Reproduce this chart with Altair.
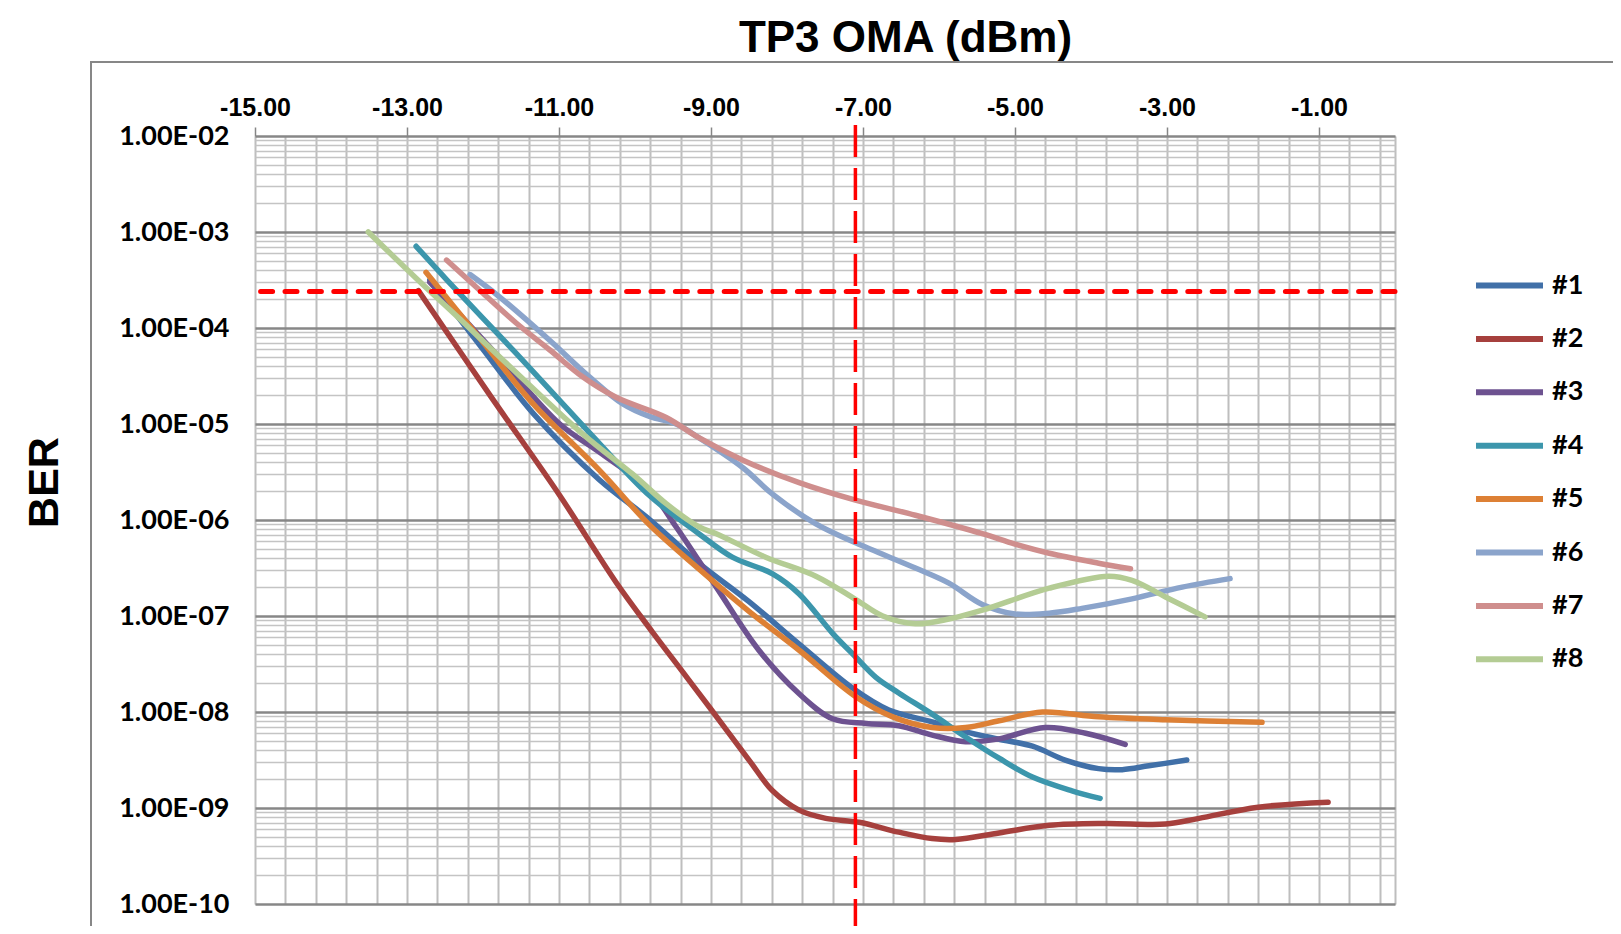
import altair as alt
import pandas as pd

# ---------------- data ----------------
SERIES = ["#1", "#2", "#3", "#4", "#5", "#6", "#7", "#8"]
COLORS = ["#4170A8", "#A6403D", "#6D5290", "#3C96AC", "#DD8035", "#8BA4CB", "#CF8E8D", "#B4CC94"]

OMA_1 = [-12.70, -12.00, -11.34, -10.47, -9.80, -9.16, -8.50, -7.84, -7.14, -6.66, -6.09, -5.65, -5.21, -4.77, -4.34, -3.90, -3.59, -3.24, -2.74]
BER_1 = [3.16e-4, 6.0e-5, 1.29e-5, 2.63e-6, 1.0e-6, 3.55e-7, 1.41e-7, 5.1e-8, 1.78e-8, 1.05e-8, 7.9e-9, 6.2e-9, 5.2e-9, 4.4e-9, 3.16e-9, 2.57e-9, 2.51e-9, 2.75e-9, 3.16e-9]

OMA_2 = [-12.85, -11.90, -10.99, -10.25, -9.77, -9.37, -9.02, -8.50, -8.19, -7.84, -7.49, -7.05, -6.53, -6.09, -5.78, -5.21, -4.55, -3.81, -3.02, -2.58, -1.80, -0.88]
BER_2 = [2.45e-4, 1.95e-5, 1.8e-6, 2.25e-7, 6.8e-8, 2.6e-8, 1.12e-8, 3.16e-9, 1.51e-9, 9.5e-10, 7.8e-10, 7.1e-10, 5.6e-10, 4.8e-10, 4.7e-10, 5.5e-10, 6.6e-10, 6.9e-10, 6.8e-10, 7.8e-10, 1.02e-9, 1.15e-9]

OMA_3 = [-12.70, -11.85, -10.99, -10.47, -9.81, -9.46, -8.93, -8.37, -7.84, -7.40, -6.96, -6.53, -6.09, -5.65, -5.21, -4.60, -4.07, -3.55]
BER_3 = [3.0e-4, 5.6e-5, 1.0e-5, 5.1e-6, 2.04e-6, 8.5e-7, 2.0e-7, 4.4e-8, 1.55e-8, 8.5e-9, 7.6e-9, 7.2e-9, 5.75e-9, 4.9e-9, 5.25e-9, 6.9e-9, 6.0e-9, 4.6e-9]

OMA_4 = [-12.88, -12.48, -11.56, -11.08, -10.47, -9.81, -9.16, -8.72, -8.19, -7.84, -7.40, -7.09, -6.83, -6.53, -6.09, -5.65, -5.21, -4.77, -4.25, -3.88]
BER_4 = [7.1e-4, 3.2e-4, 5.4e-5, 2.1e-5, 6.3e-6, 1.8e-6, 7.2e-7, 4.1e-7, 2.75e-7, 1.7e-7, 6.6e-8, 3.7e-8, 2.3e-8, 1.58e-8, 9.5e-9, 5.5e-9, 3.3e-9, 2.1e-9, 1.51e-9, 1.26e-9]

OMA_5 = [-12.75, -12.00, -11.34, -10.47, -9.81, -9.16, -8.50, -7.84, -7.10, -6.61, -6.09, -5.65, -5.21, -4.64, -3.90, -3.02, -1.75]
BER_5 = [3.8e-4, 7.1e-5, 1.62e-5, 3.3e-6, 8.9e-7, 3.1e-7, 1.12e-7, 4.4e-8, 1.45e-8, 8.9e-9, 6.9e-9, 6.9e-9, 8.1e-9, 1.0e-8, 8.9e-9, 8.3e-9, 7.8e-9]

OMA_6 = [-12.17, -11.78, -11.12, -10.60, -10.16, -9.81, -9.46, -9.16, -8.58, -8.19, -7.62, -7.09, -6.31, -5.87, -5.43, -5.00, -4.55, -4.12, -3.46, -2.80, -2.17]
BER_6 = [3.6e-4, 2.1e-4, 7.4e-5, 3.1e-5, 1.62e-5, 1.2e-5, 1.0e-5, 7.2e-6, 3.5e-6, 1.86e-6, 9.1e-7, 5.75e-7, 3.16e-7, 2.2e-7, 1.32e-7, 1.05e-7, 1.07e-7, 1.2e-7, 1.51e-7, 2.0e-7, 2.45e-7]

OMA_7 = [-12.48, -12.00, -11.56, -11.12, -10.69, -10.25, -9.59, -9.16, -8.58, -7.84, -7.11, -6.31, -5.43, -5.00, -4.55, -3.90, -3.48]
BER_7 = [5.1e-4, 2.3e-4, 1.12e-4, 5.9e-5, 3.1e-5, 1.9e-5, 1.17e-5, 7.2e-6, 4.2e-6, 2.45e-6, 1.62e-6, 1.12e-6, 7.2e-7, 5.6e-7, 4.5e-7, 3.55e-7, 3.1e-7]

OMA_8 = [-13.51, -12.88, -12.30, -11.78, -10.69, -10.03, -9.59, -9.16, -8.93, -8.28, -7.62, -7.11, -6.74, -6.31, -5.87, -5.43, -4.55, -3.77, -3.46, -3.02, -2.50]
BER_8 = [1.0e-3, 3.3e-4, 1.23e-4, 5.0e-5, 7.9e-6, 3.0e-6, 1.48e-6, 8.5e-7, 7.2e-7, 4.1e-7, 2.6e-7, 1.51e-7, 1.0e-7, 8.3e-8, 9.3e-8, 1.15e-7, 1.95e-7, 2.6e-7, 2.35e-7, 1.58e-7, 9.8e-8]

THRESHOLD_BER = 2.4e-4
SENSITIVITY_OMA = -7.1

X_LABELLED = [-15, -13, -11, -9, -7, -5, -3, -1]
Y_DECADES = [1e-2, 1e-3, 1e-4, 1e-5, 1e-6, 1e-7, 1e-8, 1e-9, 1e-10]

# ---------------- assemble table ----------------
oma_lists = [OMA_1, OMA_2, OMA_3, OMA_4, OMA_5, OMA_6, OMA_7, OMA_8]
ber_lists = [BER_1, BER_2, BER_3, BER_4, BER_5, BER_6, BER_7, BER_8]
rows = []
for name, xs, ys in zip(SERIES, oma_lists, ber_lists):
    for xv, yv in zip(xs, ys):
        rows.append({"series": name, "oma": xv, "ber": yv})
df = pd.DataFrame(rows)

# grid positions (Excel: major 2, minor 0.4 ; log minor 2..9)
x_grid = sorted(set([round(-15 + 0.4 * k, 1) for k in range(38)] + [0.0] + X_LABELLED))
y_grid = [1e-2] + [m * d for d in Y_DECADES[1:] for m in range(1, 10)]

NARROW = "Liberation Sans, Arial, sans-serif"
LABEL = "Lato, Calibri, sans-serif"

W, H = 1140, 768
PAD = {"left": 247, "top": 128, "right": 218, "bottom": 22}

x_scale = alt.Scale(domain=[-15, 0], nice=False, zero=False)
y_scale = alt.Scale(type="log", domain=[1e-10, 1e-2], nice=False)

is_major_x = "abs(datum.value % 2) == 1"
is_decade = "abs(log(datum.value)/LN10 - round(log(datum.value)/LN10)) < 0.000001"

x_axis = alt.Axis(
    orient="top",
    values=x_grid,
    labelExpr=f"{is_major_x} ? (datum.value < 0 ? '-' : '') + format(abs(datum.value), '.2f') : ''",
    labelFont=NARROW, labelFontSize=25, labelFontWeight="bold", labelColor="#000000",
    labelPadding=7, labelOverlap=False, labelFlush=False, labelBound=False,
    tickSize=9, tickWidth=1.5,
    tickColor={"condition": {"test": is_major_x, "value": "#868686"}, "value": "rgba(0,0,0,0)"},
    domain=False,
    grid=True, gridColor="#BEBEBE", gridWidth=2,
    title="TP3 OMA (dBm)", titleFont=NARROW, titleFontSize=44, titleFontWeight="bold",
    titleColor="#000000", titleX=650, titleY=-85, titleAlign="center", titleBaseline="alphabetic",
    zindex=0,
)

y_axis = alt.Axis(
    orient="left",
    values=y_grid,
    labelExpr=f"{is_decade} ? '1.00E-' + (round(-log(datum.value)/LN10) < 10 ? '0' : '') + round(-log(datum.value)/LN10) : ''",
    labelFont=LABEL, labelFontSize=27, labelFontWeight="bold", labelColor="#000000",
    labelPadding=26, labelOverlap=False, labelFlush=False, labelBound=False,
    ticks=False, domain=False,
    grid=True,
    gridColor={"condition": {"test": is_decade, "value": "#878787"}, "value": "#C4C4C4"},
    gridWidth={"condition": {"test": is_decade, "value": 2.5}, "value": 1.6},
    title="BER", titleFont=NARROW, titleFontSize=43, titleFontWeight="bold", titleColor="#000000",
    titleAngle=270, titleX=-198, titleY=346, titleAlign="center", titleBaseline="alphabetic",
    zindex=0,
)

legend = alt.Legend(
    orient="none", legendX=1218, legendY=113, title=None,
    labelFont=LABEL, labelFontSize=27, labelFontWeight="bold", labelColor="#000000",
    symbolType="stroke", symbolStrokeWidth=6, symbolSize=4489, labelOffset=6,
    rowPadding=3.4, symbolOpacity=1,
)

X = alt.X("oma:Q", scale=x_scale, axis=x_axis)
Y = alt.Y("ber:Q", scale=y_scale, axis=y_axis)

lines = alt.Chart(df).mark_line(
    interpolate="catmull-rom", strokeWidth=5.5, strokeCap="round", strokeJoin="round"
).encode(
    x=X,
    y=Y,
    color=alt.Color("series:N", scale=alt.Scale(domain=SERIES, range=COLORS), legend=legend),
    detail="series:N",
)

hline = alt.Chart(pd.DataFrame({"ber": [THRESHOLD_BER]})).mark_rule(
    color="#FF0000", strokeWidth=5, strokeDash=[12, 12.4], strokeCap="round"
).encode(y=Y)

vline = alt.Chart(pd.DataFrame({"oma": [SENSITIVITY_OMA]})).mark_rule(
    color="#FF0000", strokeWidth=3.5, strokeDash=[32, 11]
).encode(x=X, y=alt.value(-11), y2=alt.value(H + 35))

frame = alt.Chart(pd.DataFrame({"k": [0]})).mark_rect(
    fill=None, stroke="#878787", strokeWidth=2
).encode(
    x=alt.value(-164), x2=alt.value(1700), y=alt.value(-74), y2=alt.value(1200)
)

chart = alt.layer(lines, hline, vline, frame).properties(
    width=W, height=H,
    autosize=alt.AutoSizeParams(type="none"),
    padding=PAD,
).configure_view(stroke=None).configure(background="white")

chart.save("out.html", embed_options={"renderer": "svg", "actions": False})
